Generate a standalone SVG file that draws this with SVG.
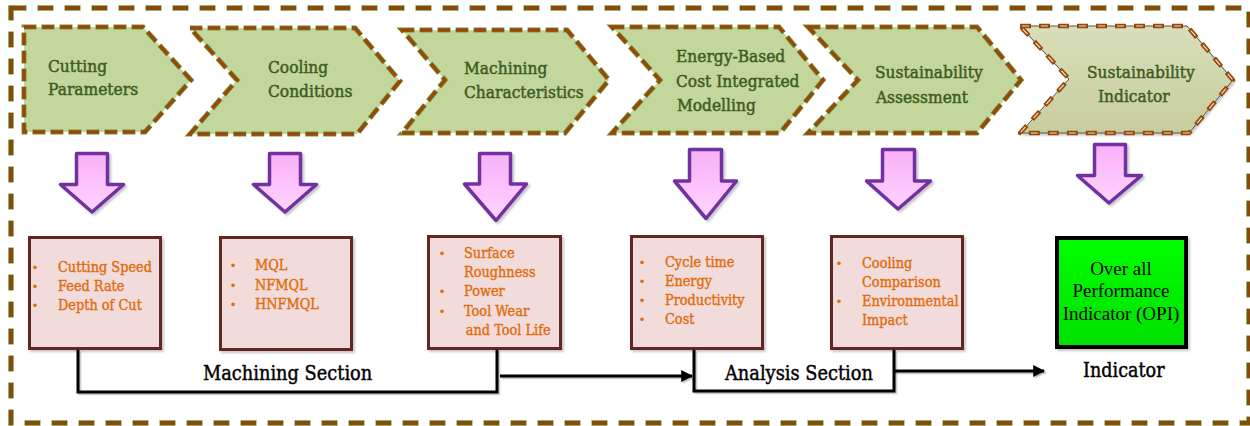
<svg xmlns="http://www.w3.org/2000/svg" width="1250" height="426" viewBox="0 0 1250 426">
  <defs>
    <linearGradient id="pinkFill" x1="0" y1="0" x2="0" y2="1">
      <stop offset="0" stop-color="#f8b0f8"/>
      <stop offset="1" stop-color="#ffd4ff"/>
    </linearGradient>
    <linearGradient id="indFill" x1="0" y1="0" x2="0" y2="1">
      <stop offset="0" stop-color="#d8dfb9"/>
      <stop offset="1" stop-color="#c7cd9e"/>
    </linearGradient>
    <linearGradient id="greenFill" x1="0" y1="0" x2="0" y2="1">
      <stop offset="0" stop-color="#00ff00"/>
      <stop offset="1" stop-color="#00e000"/>
    </linearGradient>
    <filter id="shadow" x="-10%" y="-10%" width="130%" height="130%">
      <feDropShadow dx="2" dy="2" stdDeviation="1" flood-color="#000" flood-opacity="0.22"/>
    </filter>
    <filter id="lineShadow" filterUnits="userSpaceOnUse" x="0" y="0" width="1250" height="426">
      <feDropShadow dx="1.5" dy="1.5" stdDeviation="0.6" flood-color="#000" flood-opacity="0.25"/>
    </filter>
    <marker id="head" viewBox="0 0 10 10" refX="9" refY="5" markerWidth="4" markerHeight="4" markerUnits="strokeWidth" orient="auto">
      <path d="M0,0 L10,5 L0,10 Z" fill="#000"/>
    </marker>
  </defs>
  <style>
    .halo { fill: none; stroke: #76923c; stroke-width: 5; stroke-dasharray: 13 5; stroke-dashoffset: 0.5; }
    .dash { fill: none; stroke: #984807; stroke-width: 3.4; stroke-dasharray: 12 6; }
    .chev { fill: #c3d69b; stroke: none; }
    .ctext { font-family: "DejaVu Serif", serif; font-size: 17px; fill: #3d5c21; stroke: #3d5c21; stroke-width: 0.5; }
    .arrow { fill: url(#pinkFill); stroke: #7030a0; stroke-width: 3.5; stroke-linejoin: round; filter: url(#shadow); }
    .box { fill: #f2dcdb; stroke: #632523; stroke-width: 3; filter: url(#shadow); }
    .btext { font-family: "DejaVu Serif", serif; font-size: 14.5px; fill: #e26b0a; stroke: #e26b0a; stroke-width: 0.4; }
    .bullet { font-family: "DejaVu Sans", sans-serif; font-size: 12px; fill: #e26b0a; text-anchor: middle; }
    .label { font-family: "DejaVu Serif", serif; font-size: 20px; fill: #000; stroke: #000; stroke-width: 0.45; }
    .conn { fill: none; stroke: #000; stroke-width: 3; filter: url(#lineShadow); }
  </style>

  <!-- outer dashed frame -->
  <g id="frame">
    <rect x="11" y="8" width="1238" height="415" fill="none" stroke="#76923c" stroke-width="5.5" stroke-dasharray="16 11" stroke-dashoffset="0.5"/>
    <rect x="11" y="8" width="1238" height="415" fill="none" stroke="#8a4a0c" stroke-width="4" stroke-dasharray="15 12"/>
  </g>

  <!-- process chevrons -->
  <g id="step-cutting">
    <path class="chev" d="M24,27 H143 L191,80 L145,132 H24 Z"/>
    <path class="halo" d="M24,27 H143 L191,80 L145,132 H24 Z"/>
    <path class="dash" d="M24,27 H143 L191,80 L145,132 H24 Z"/>
    <text class="ctext" transform="translate(48,0) scale(0.91,1)"><tspan x="0" y="72">Cutting</tspan><tspan x="0" y="95">Parameters</tspan></text>
  </g>
  <g id="step-cooling">
    <path class="chev" d="M190,28 H355 L400,81 L357,134 H190 L237,80 Z"/>
    <path class="halo" d="M190,28 H355 L400,81 L357,134 H190 L237,80 Z"/>
    <path class="dash" d="M190,28 H355 L400,81 L357,134 H190 L237,80 Z"/>
    <text class="ctext" transform="translate(268,0) scale(0.91,1)"><tspan x="0" y="73">Cooling</tspan><tspan x="0" y="97">Conditions</tspan></text>
  </g>
  <g id="step-machining">
    <path class="chev" d="M402,30 H567 L609,80 L565,133 H402 L445,80 Z"/>
    <path class="halo" d="M402,30 H567 L609,80 L565,133 H402 L445,80 Z"/>
    <path class="dash" d="M402,30 H567 L609,80 L565,133 H402 L445,80 Z"/>
    <text class="ctext" transform="translate(464,0) scale(0.91,1)"><tspan x="0" y="74">Machining</tspan><tspan x="0" y="98">Characteristics</tspan></text>
  </g>
  <g id="step-energy">
    <path class="chev" d="M612,27 H779 L823,80 L780,133 H612 L660,80 Z"/>
    <path class="halo" d="M612,27 H779 L823,80 L780,133 H612 L660,80 Z"/>
    <path class="dash" d="M612,27 H779 L823,80 L780,133 H612 L660,80 Z"/>
    <text class="ctext" transform="translate(676,0) scale(0.91,1)"><tspan x="0" y="62">Energy-Based</tspan><tspan x="0" y="87">Cost Integrated</tspan><tspan x="1" y="111">Modelling</tspan></text>
  </g>
  <g id="step-assessment">
    <path class="chev" d="M808,27 H977 L1021,80 L977,133 H808 L858,80 Z"/>
    <path class="halo" d="M808,27 H977 L1021,80 L977,133 H808 L858,80 Z"/>
    <path class="dash" d="M808,27 H977 L1021,80 L977,133 H808 L858,80 Z"/>
    <text class="ctext" transform="translate(875,0) scale(0.91,1)"><tspan x="0" y="78">Sustainability</tspan><tspan x="1" y="103">Assessment</tspan></text>
  </g>
  <g id="step-indicator">
    <path d="M1020,26 H1187 L1233,80 L1189,133 H1020 L1069,79 Z" fill="url(#indFill)" stroke="#555" stroke-width="1" filter="url(#shadow)"/>
    <path d="M1020,26 H1187 L1233,80 L1189,133 H1020 L1069,79 Z" fill="none" stroke="#984807" stroke-width="4.5" stroke-dasharray="11 8" stroke-linejoin="round"/>
    <path d="M1020,26 H1187 L1233,80 L1189,133 H1020 L1069,79 Z" fill="none" stroke="#f3dcc4" stroke-width="1.2" stroke-dasharray="7 12" stroke-dashoffset="-2"/>
    <text class="ctext" transform="translate(1087,0) scale(0.91,1)"><tspan x="0" y="78">Sustainability</tspan><tspan x="12" y="102">Indicator</tspan></text>
  </g>

  <!-- downward block arrows -->
  <g id="arrow-1"><path class="arrow" d="M76.5,153.5 H107.5 V184.5 H123.5 L92,212 L60.5,184.5 H76.5 Z"/></g>
  <g id="arrow-2"><path class="arrow" d="M269.5,153.5 H300.5 V184.5 H316.5 L285,212 L253.5,184.5 H269.5 Z"/></g>
  <g id="arrow-3"><path class="arrow" d="M479.5,153.5 H510.5 V184 H526.5 L496,220.5 L464.5,184 H479.5 Z"/></g>
  <g id="arrow-4"><path class="arrow" d="M689.5,149.5 H721.5 V181 H736.5 L706,218.5 L674.5,181 H689.5 Z"/></g>
  <g id="arrow-5"><path class="arrow" d="M882.5,149.5 H914.5 V181 H930.5 L898,209 L866.5,181 H882.5 Z"/></g>
  <g id="arrow-6"><path class="arrow" d="M1094.5,144.5 H1125.5 V175.5 H1141.5 L1109,203 L1077.5,175.5 H1094.5 Z"/></g>

  <!-- detail boxes -->
  <g id="box-parameters">
    <rect class="box" x="29.5" y="237.5" width="131" height="111"/>
    <text class="bullet"><tspan x="35" y="272">•</tspan><tspan x="35" y="291">•</tspan><tspan x="35" y="310">•</tspan></text>
    <text class="btext" transform="translate(58,0) scale(0.89,1)"><tspan x="0" y="272">Cutting Speed</tspan><tspan x="0" y="291">Feed Rate</tspan><tspan x="0" y="310">Depth of Cut</tspan></text>
  </g>
  <g id="box-cooling">
    <rect class="box" x="220.5" y="237.5" width="131" height="112"/>
    <text class="bullet"><tspan x="233" y="270">•</tspan><tspan x="233" y="290">•</tspan><tspan x="233" y="309">•</tspan></text>
    <text class="btext" transform="translate(255,0) scale(0.89,1)"><tspan x="0" y="270">MQL</tspan><tspan x="0" y="290">NFMQL</tspan><tspan x="0" y="309">HNFMQL</tspan></text>
  </g>
  <g id="box-machining">
    <rect class="box" x="428.5" y="236.5" width="132" height="112"/>
    <text class="bullet"><tspan x="442" y="258">•</tspan><tspan x="442" y="296">•</tspan><tspan x="442" y="316">•</tspan></text>
    <text class="btext" transform="translate(464,0) scale(0.89,1)"><tspan x="0" y="258">Surface</tspan><tspan x="0" y="277">Roughness</tspan><tspan x="0" y="296">Power</tspan><tspan x="0" y="316">Tool Wear</tspan><tspan x="2" y="335">and Tool Life</tspan></text>
  </g>
  <g id="box-analysis">
    <rect class="box" x="631.5" y="236.5" width="131" height="112"/>
    <text class="bullet"><tspan x="642" y="267">•</tspan><tspan x="642" y="286">•</tspan><tspan x="642" y="305">•</tspan><tspan x="642" y="324">•</tspan></text>
    <text class="btext" transform="translate(665,0) scale(0.89,1)"><tspan x="0" y="267">Cycle time</tspan><tspan x="0" y="286">Energy</tspan><tspan x="0" y="305">Productivity</tspan><tspan x="0" y="324">Cost</tspan></text>
  </g>
  <g id="box-assessment">
    <rect class="box" x="831.5" y="236.5" width="131" height="112"/>
    <text class="bullet"><tspan x="839" y="268">•</tspan><tspan x="839" y="306">•</tspan></text>
    <text class="btext" transform="translate(862,0) scale(0.89,1)"><tspan x="0" y="268">Cooling</tspan><tspan x="0" y="287">Comparison</tspan><tspan x="0" y="306">Environmental</tspan><tspan x="0" y="325">Impact</tspan></text>
  </g>
  <g id="box-opi">
    <rect x="1057" y="238" width="129" height="109" fill="url(#greenFill)" stroke="#000" stroke-width="4" filter="url(#shadow)"/>
    <text font-family="'Liberation Serif', serif" font-size="19" fill="#000" text-anchor="middle"><tspan x="1121" y="275">Over all</tspan><tspan x="1121" y="297">Performance</tspan><tspan x="1121" y="320">Indicator (OPI)</tspan></text>
  </g>

  <!-- connectors -->
  <g id="connectors">
    <path class="conn" d="M78,350 V392 H497 V350"/>
    <path class="conn" d="M500,376 H692" marker-end="url(#head)"/>
    <path class="conn" d="M694,350 V391 H894 V350"/>
    <path class="conn" d="M894,371 H1044" marker-end="url(#head)"/>
  </g>

  <!-- section labels -->
  <g id="labels">
    <text class="label" transform="translate(203,380) scale(0.89,1)">Machining Section</text>
    <text class="label" transform="translate(725,380) scale(0.89,1)">Analysis Section</text>
    <text class="label" transform="translate(1083,377) scale(0.88,1)">Indicator</text>
  </g>
</svg>
